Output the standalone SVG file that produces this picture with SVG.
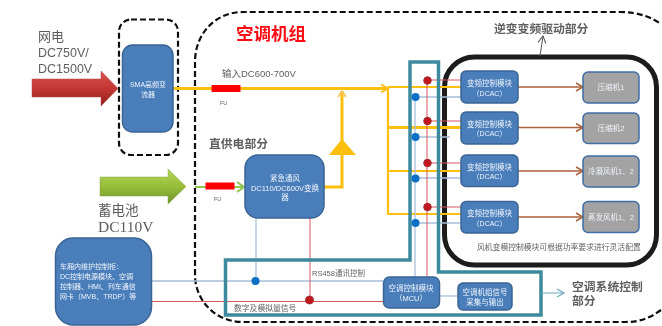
<svg xmlns="http://www.w3.org/2000/svg" width="662" height="326" viewBox="0 0 662 326">
<style>
text{font-family:"Liberation Sans","Noto Sans CJK SC",sans-serif}
.serif{font-family:"Liberation Serif","Noto Sans CJK SC",serif;fill:#5c5c5c}
.lbl{fill:#5f5f5f}
.w{fill:#eef3fa;text-anchor:middle}
.st{text-anchor:start}
.bb{fill:#4a7ebb;stroke:#3a6595;stroke-width:1.5}
.gb{fill:#a3a3a3;stroke:#3f6ea5;stroke-width:1.5}
.dash{fill:none;stroke:#111;stroke-width:2.2;stroke-dasharray:6 3}
.y{fill:none;stroke:#fdbf0f;stroke-width:2.200}
.yt{fill:none;stroke:#fdbf0f;stroke-width:3}
.lb{fill:none;stroke:#a8bfdc;stroke-width:1.300}
.lr{fill:none;stroke:#d8575c;stroke-width:1}
.br{fill:none;stroke:#a9623a;stroke-width:1.600;marker-end:url(#mb)}
.rd{fill:#c0141e;stroke:#a5333a;stroke-width:1}
.bd{fill:#0b70c6}
.fu{fill:#fb0000}
</style>
<defs>
<filter id="soft" x="0" y="0" width="100%" height="100%"><feGaussianBlur stdDeviation="0.35"/></filter>
<linearGradient id="gr" x1="0" y1="0" x2="0" y2="1"><stop offset="0" stop-color="#d9534f"/><stop offset="0.5" stop-color="#c43634"/><stop offset="1" stop-color="#8f201e"/></linearGradient>
<linearGradient id="gg" x1="0" y1="0" x2="0" y2="1"><stop offset="0" stop-color="#b5d55a"/><stop offset="0.5" stop-color="#96bd3a"/><stop offset="1" stop-color="#6f9328"/></linearGradient>
<marker id="mb" markerWidth="9" markerHeight="10" refX="8" refY="5" orient="auto" markerUnits="userSpaceOnUse"><path d="M1 1L8 5L1 9" fill="none" stroke="#a9623a" stroke-width="1.500"/></marker>
<marker id="my" markerWidth="10" markerHeight="10" refX="8" refY="5" orient="auto" markerUnits="userSpaceOnUse"><path d="M1 1L8 5L1 9" fill="none" stroke="#fdbf0f" stroke-width="1.800"/></marker>
<marker id="mg" markerWidth="10" markerHeight="12" refX="8" refY="6" orient="auto" markerUnits="userSpaceOnUse"><path d="M1 1L8 6L1 11" fill="none" stroke="#92c353" stroke-width="2"/></marker>
<marker id="mt" markerWidth="10" markerHeight="10" refX="8" refY="5" orient="auto" markerUnits="userSpaceOnUse"><path d="M1 1L8 5L1 9" fill="none" stroke="#6ea9b8" stroke-width="1.200"/></marker>
<marker id="mk" markerWidth="10" markerHeight="10" refX="8" refY="5" orient="auto" markerUnits="userSpaceOnUse"><path d="M1 1L8 5L1 9" fill="none" stroke="#555" stroke-width="1"/></marker>
</defs>
<g filter="url(#soft)">
<rect width="662" height="326" fill="#fff"/>

<g id="frames">
<rect class="dash" x="119" y="19.500" width="59" height="135.500" rx="12"/>
<path class="dash" d="M195 275V62C195 34 215 12 243 12H620C640 12 652 18 661 24M661 310C650 318 640 322 625 322H243C215 322 195 300 195 275"/>
<rect x="444.500" y="57" width="212" height="208" rx="30" fill="none" stroke="#1b1b1b" stroke-width="5"/>
</g>

<g id="connectors">
<path class="yt" d="M173 88.500H388" style="marker-end:url(#my)"/>
<path class="y" d="M388 88V214H461M388 87H461M388 171H461"/>
<path class="yt" d="M388 127.500H461"/>
<path class="yt" d="M323 187H342V91"/>
<path d="M342 91L338 97M342 91L346 97" stroke="#f5c354" stroke-width="1.500" fill="none"/>
<path d="M342 139L356 155H329Z" fill="#fdbf0f"/>
<path d="M195 187H244" fill="none" stroke="#92c353" stroke-width="2" style="marker-end:url(#mg)"/>
<path class="lb" d="M415 97V277M415 97H461M415 137H450M415 178H461M415 223H461"/>
<path class="lr" d="M427 80V277M427 80H461M427 121H461M427 163H461M427 207H461"/>
<path class="lb" d="M152 281H383M256 218V281"/>
<path class="lr" d="M152 301.500H383M310 218V301"/>
<path class="lb" d="M439 296H458"/>
<path fill="none" stroke="#3d8a9e" stroke-width="3.500" d="M410 62H438.500V272H541V315H225.500V260H410Z"/>
<path fill="none" stroke="#6ea9b8" stroke-width="1" d="M541 293H564" style="marker-end:url(#mt)"/>
<path fill="none" stroke="#555" stroke-width="1" d="M540 56L543 36" style="marker-end:url(#mk)"/>
<path class="br" d="M518 87H583"/>
<path class="br" d="M518 127.500H583"/>
<path class="br" d="M518 171H583"/>
<path class="br" d="M512 217H583"/>
<rect class="fu" x="211.500" y="85" width="29" height="7"/>
<rect class="fu" x="205.500" y="182.500" width="29" height="7"/>
<circle class="rd" cx="427.500" cy="80.500" r="3.800"/>
<circle class="rd" cx="427.500" cy="121" r="3.800"/>
<circle class="rd" cx="427.500" cy="163" r="3.800"/>
<circle class="rd" cx="427.500" cy="207" r="3.800"/>
<circle class="bd" cx="415.500" cy="97" r="4"/>
<circle class="bd" cx="415.500" cy="137" r="4"/>
<circle class="bd" cx="415.500" cy="178.500" r="4"/>
<circle class="bd" cx="415.500" cy="223" r="4"/>
<circle class="bd" cx="255.500" cy="281" r="4"/>
<circle class="rd" cx="309.500" cy="300" r="4"/>
</g>

<g id="arrow-grid"><path d="M32 79H101V71L118 88.500L101 106V97H32Z" fill="url(#gr)" stroke="#b04a48" stroke-width="0.500"/></g>
<g id="arrow-battery"><path d="M100 177H168V169L186 186.500L168 204V196H100Z" fill="url(#gg)" stroke="#8aa84a" stroke-width="0.500"/></g>

<g id="sma"><rect class="bb" x="122.500" y="45" width="50.500" height="87" rx="10"/>
<text class="w" font-size="7" x="148" y="87">SMA高频变</text><text class="w" font-size="7" x="148" y="97">流器</text></g>

<g id="emergency"><rect class="bb" x="245" y="155" width="79" height="63" rx="13"/>
<text class="w" font-size="7.500" x="285" y="181">紧急通风</text><text class="w" font-size="7.500" x="285" y="191">DC110/DC600V变换</text><text class="w" font-size="7.500" x="285" y="200">器</text></g>

<g id="maintenance"><rect class="bb" x="55.500" y="238" width="96" height="87" rx="18"/>
<g font-size="7"><text class="w st" x="60" y="269">车厢内维护控制柜：</text><text class="w st" x="60" y="279">DC控制电源模块、空调</text><text class="w st" x="60" y="289">控制器、HMI、列车通信</text><text class="w st" x="60" y="299">网卡（MVB、TRDP）等</text></g></g>

<g id="mcu"><rect class="bb" x="383.500" y="277" width="56" height="31" rx="6"/>
<text class="w" font-size="7.500" x="411" y="291">空调控制模块</text><text class="w" font-size="7.500" x="411" y="301">（MCU）</text></g>

<g id="signal"><rect class="bb" x="458" y="283" width="54" height="27" rx="5"/>
<text class="w" font-size="7.500" x="485" y="295">空调机组信号</text><text class="w" font-size="7.500" x="485" y="305">采集与输出</text></g>

<g id="dcac1"><rect class="bb" x="461" y="71" width="57" height="32" rx="5"/><text class="w" font-size="7.500" x="489.500" y="86">变频控制模块</text><text class="w" font-size="7" x="489.500" y="96">（DCAC）</text></g>
<g id="dcac2"><rect class="bb" x="461" y="112" width="57" height="32" rx="5"/><text class="w" font-size="7.500" x="489.500" y="127">变频控制模块</text><text class="w" font-size="7" x="489.500" y="136">（DCAC）</text></g>
<g id="dcac3"><rect class="bb" x="461" y="155" width="57" height="31.500" rx="5"/><text class="w" font-size="7.500" x="489.500" y="170">变频控制模块</text><text class="w" font-size="7" x="489.500" y="179">（DCAC）</text></g>
<g id="dcac4"><rect class="bb" x="461" y="201.500" width="57" height="31.500" rx="5"/><text class="w" font-size="7.500" x="489.500" y="216">变频控制模块</text><text class="w" font-size="7" x="489.500" y="226">（DCAC）</text></g>

<g id="comp1"><rect class="gb" x="583" y="72" width="56" height="31" rx="5"/><text class="w" font-size="7.500" x="611" y="90">压缩机1</text></g>
<g id="comp2"><rect class="gb" x="583" y="113" width="56" height="30.500" rx="5"/><text class="w" font-size="7.500" x="611" y="131">压缩机2</text></g>
<g id="cond"><rect class="gb" x="583" y="156" width="56" height="31" rx="5"/><text class="w" font-size="7.500" x="611" y="174">冷凝风机1、2</text></g>
<g id="evap"><rect class="gb" x="583" y="201.500" width="56" height="31" rx="5"/><text class="w" font-size="7.500" x="611" y="220">蒸发风机1、2</text></g>

<g id="labels">
<text class="serif" x="38" y="41" font-size="13">网电</text>
<text class="lbl" x="38" y="57" font-size="12.500">DC750V/</text>
<text class="lbl" x="38" y="73" font-size="12.500">DC1500V</text>
<text class="serif" x="98" y="215" font-size="13.500">蓄电池</text>
<text class="serif" x="98" y="232" font-size="15.500">DC110V</text>
<text x="236" y="40" font-size="17.500" font-weight="bold" fill="#fb0a14">空调机组</text>
<text class="lbl" x="222" y="77" font-size="9.500">输入DC600-700V</text>
<text class="lbl" x="220" y="105" font-size="5.500">FU</text>
<text class="lbl" x="214" y="201" font-size="5.500">FU</text>
<text class="lbl" x="209" y="148" font-size="11.800" font-weight="bold">直供电部分</text>
<text class="lbl" x="312" y="276" font-size="7.500">RS458通讯控制</text>
<text class="lbl" x="234" y="311" font-size="7.800">数字及模拟量信号</text>
<text class="lbl" x="494" y="33" font-size="11.800" font-weight="bold">逆变变频驱动部分</text>
<text class="lbl" x="477" y="250" font-size="7.800">风机变模控制模块可根据功率要求进行灵活配置</text>
<text class="lbl" x="572" y="291" font-size="11.800" font-weight="bold">空调系统控制</text>
<text class="lbl" x="572" y="305" font-size="11.800" font-weight="bold">部分</text>
</g>
</g>
</svg>
